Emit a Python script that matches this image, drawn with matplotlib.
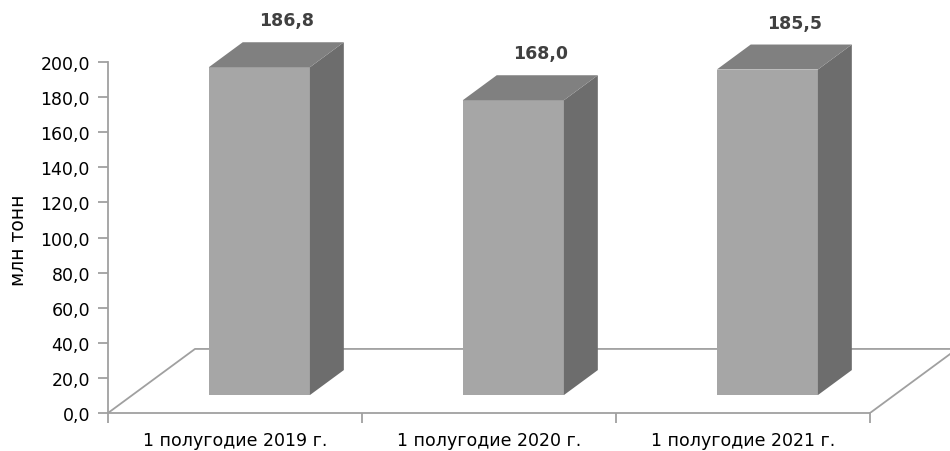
import matplotlib
matplotlib.use('Agg')
import matplotlib.pyplot as plt
from matplotlib.ticker import FuncFormatter, FixedLocator

categories = ['1 полугодие 2019 г.', '1 полугодие 2020 г.', '1 полугодие 2021 г.']
values = [186.8, 168.0, 185.5]
y_ticks = [0, 20, 40, 60, 80, 100, 120, 140, 160, 180, 200]
y_label = 'млн тонн'

plt.rcParams['font.family'] = ['DejaVu Sans']

# oblique "3D" look: floor depth offsets in data units
DX = 0.3425
DY = 36.5
d0, d1 = 0.28, 0.67   # bar depth span (fraction of floor depth)
bar_w = 0.398

front_c = '#a6a6a6'
top_c = '#808080'
side_c = '#6d6d6d'
line_c = '#a0a0a0'

fig = plt.figure(figsize=(9.5, 4.52), dpi=100)
ax = fig.add_axes([108 / 950, 38 / 452, 842 / 950, 414 / 452])
ax.set_xlim(0, 842 / 254)
ax.set_ylim(0, 414 / 1.755)

n = len(categories)

# floor outline
ax.plot([0, DX, n + DX], [0, DY, DY], color=line_c, lw=1.3, zorder=1)
ax.plot([n, n + DX], [0, DY], color=line_c, lw=1.3, zorder=1)

for i, v in enumerate(values):
    x0 = i + 0.5 - bar_w / 2 + d0 * DX
    x1 = x0 + bar_w
    y0 = d0 * DY
    y1 = y0 + v
    sx = (d1 - d0) * DX
    sy = (d1 - d0) * DY
    ax.bar(x0, v, width=bar_w, bottom=y0, align='edge', color=front_c, zorder=3)
    ax.fill([x1, x1 + sx, x1 + sx, x1], [y0, y0 + sy, y1 + sy, y1],
            color=side_c, lw=0, zorder=3)
    ax.fill([x0, x0 + sx, x1 + sx, x1], [y1, y1 + sy, y1 + sy, y1],
            color=top_c, lw=0, zorder=3)
    ax.text(i + 0.5 + 0.59 * DX, y1 + sy + 12.5, f'{v:.1f}'.replace('.', ','),
            ha='center', va='center', fontsize=12.5, fontweight='bold',
            color='#404040')

for s in ['top', 'right']:
    ax.spines[s].set_visible(False)
ax.spines['left'].set_bounds(0, 200)
ax.spines['bottom'].set_bounds(0, n)
for s in ['left', 'bottom']:
    ax.spines[s].set_color(line_c)
    ax.spines[s].set_linewidth(1.3)

ax.yaxis.set_major_locator(FixedLocator(y_ticks))
ax.yaxis.set_major_formatter(FuncFormatter(lambda v, p: f'{v:.1f}'.replace('.', ',')))
ax.tick_params(axis='y', length=7, width=1.3, color=line_c, labelsize=12.5, pad=6)

ax.set_xticks(range(n + 1))
ax.set_xticklabels([])
ax.set_xticks([i + 0.5 for i in range(n)], minor=True)
ax.set_xticklabels(categories, minor=True)
ax.tick_params(axis='x', which='major', length=7, width=1.3, color=line_c)
ax.tick_params(axis='x', which='minor', length=0, labelsize=12.5, pad=13)

ax.set_ylabel(y_label, fontsize=13.5)
ax.yaxis.set_label_coords(-80 / 842, (414 - 240) / 414)

fig.savefig('out.png', dpi=100, facecolor='white')
